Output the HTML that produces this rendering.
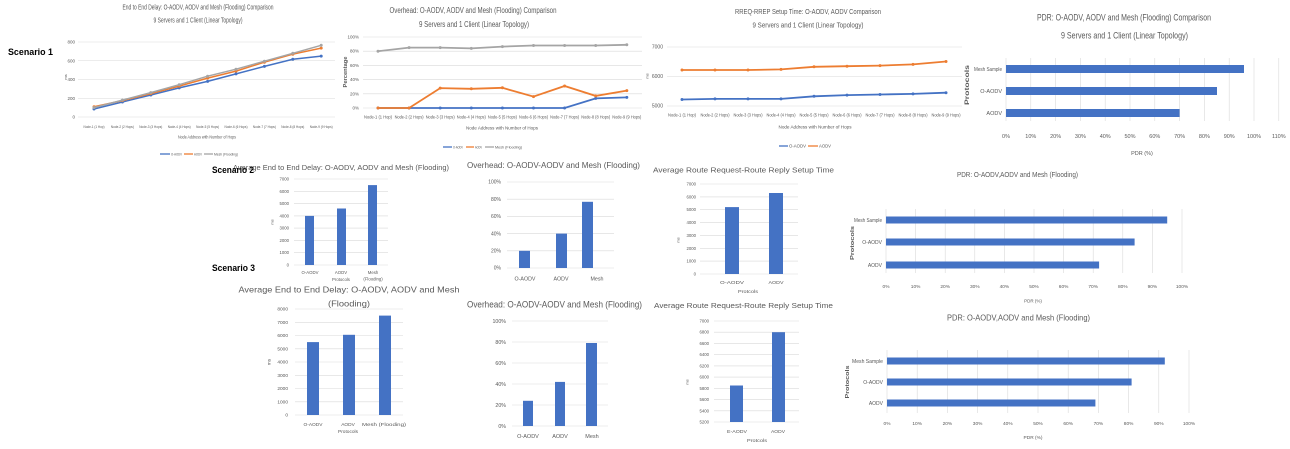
<!DOCTYPE html>
<html><head><meta charset="utf-8"><style>
html,body{margin:0;padding:0;background:#fff;width:1290px;height:449px;overflow:hidden}
svg{display:block}
</style></head><body>
<svg width="1290" height="449" viewBox="0 0 1290 449" font-family="Liberation Sans, sans-serif" fill="#595959">
<defs>
<marker id="mb" markerUnits="userSpaceOnUse" markerWidth="6" markerHeight="6" refX="3" refY="3"><circle cx="3" cy="3" r="1.5" fill="#4472C4"/></marker>
<marker id="mo" markerUnits="userSpaceOnUse" markerWidth="6" markerHeight="6" refX="3" refY="3"><circle cx="3" cy="3" r="1.5" fill="#ED7D31"/></marker>
<marker id="mg" markerUnits="userSpaceOnUse" markerWidth="6" markerHeight="6" refX="3" refY="3"><circle cx="3" cy="3" r="1.5" fill="#A5A5A5"/></marker>
</defs>

<!-- ============ Scenario labels ============ -->
<g fill="#000" font-weight="bold" font-size="9">
<text x="8" y="55" textLength="45" lengthAdjust="spacingAndGlyphs">Scenario 1</text>
</g>

<!-- ============ Chart 1 ============ -->
<text x="198" y="9.5" font-size="7" text-anchor="middle" textLength="151" lengthAdjust="spacingAndGlyphs">End to End Delay: O-AODV, AODV and Mesh (Flooding) Comparison</text>
<text x="198" y="22.5" font-size="7" text-anchor="middle" textLength="89" lengthAdjust="spacingAndGlyphs">9 Servers and 1 Client (Linear Topology)</text>
<g stroke="#D9D9D9" stroke-width="0.6">
<line x1="78" y1="42" x2="335" y2="42"/><line x1="78" y1="60.75" x2="335" y2="60.75"/><line x1="78" y1="79.5" x2="335" y2="79.5"/><line x1="78" y1="98.25" x2="335" y2="98.25"/><line x1="78" y1="117" x2="335" y2="117"/>
</g>
<g font-size="4.5" text-anchor="end">
<text x="75" y="43.5">800</text><text x="75" y="62.3">600</text><text x="75" y="81">400</text><text x="75" y="99.8">200</text><text x="75" y="118.5">0</text>
</g>
<text transform="rotate(-90 66 77)" x="66" y="78" font-size="4" text-anchor="middle">ms</text>
<g font-size="4" text-anchor="middle" lengthAdjust="spacingAndGlyphs">
<text x="94" y="128" textLength="21" lengthAdjust="spacingAndGlyphs">Node-1 (1 Hop)</text>
<text x="122.4" y="128" textLength="23" lengthAdjust="spacingAndGlyphs">Node-2 (2 Hops)</text>
<text x="150.8" y="128" textLength="23" lengthAdjust="spacingAndGlyphs">Node-3 (3 Hops)</text>
<text x="179.2" y="128" textLength="23" lengthAdjust="spacingAndGlyphs">Node-4 (4 Hops)</text>
<text x="207.6" y="128" textLength="23" lengthAdjust="spacingAndGlyphs">Node-5 (5 Hops)</text>
<text x="236" y="128" textLength="23" lengthAdjust="spacingAndGlyphs">Node-6 (6 Hops)</text>
<text x="264.4" y="128" textLength="23" lengthAdjust="spacingAndGlyphs">Node-7 (7 Hops)</text>
<text x="292.8" y="128" textLength="23" lengthAdjust="spacingAndGlyphs">Node-8 (8 Hops)</text>
<text x="321.2" y="128" textLength="23" lengthAdjust="spacingAndGlyphs">Node-9 (9 Hops)</text>
</g>
<text x="207" y="138.5" font-size="4.5" text-anchor="middle" textLength="58" lengthAdjust="spacingAndGlyphs">Node Address with Number of Hops</text>
<g fill="none" stroke-width="1.5">
<polyline stroke="#4472C4" marker-start="url(#mb)" marker-mid="url(#mb)" marker-end="url(#mb)" points="94,109 122.4,102 150.8,95 179.2,87.9 207.6,81.4 236,73.9 264.4,66.4 292.8,59.3 321.2,56.1"/>
<polyline stroke="#ED7D31" marker-start="url(#mo)" marker-mid="url(#mo)" marker-end="url(#mo)" points="94,106.7 122.4,100.6 150.8,93.6 179.2,86.1 207.6,78.1 236,71.1 264.4,62.2 292.8,54.2 321.2,48.1"/>
<polyline stroke="#A5A5A5" marker-start="url(#mg)" marker-mid="url(#mg)" marker-end="url(#mg)" points="94,107.6 122.4,100.1 150.8,92.6 179.2,84.7 207.6,76.2 236,69.2 264.4,61.2 292.8,53.3 321.2,45.3"/>
</g>
<g stroke-width="1.3">
<line x1="160" y1="154" x2="170" y2="154" stroke="#4472C4"/><line x1="184" y1="154" x2="193" y2="154" stroke="#ED7D31"/><line x1="204" y1="154" x2="213" y2="154" stroke="#A5A5A5"/>
</g>
<g font-size="4">
<text x="171" y="155.5" textLength="11" lengthAdjust="spacingAndGlyphs">O-AODV</text>
<text x="194" y="155.5" textLength="8" lengthAdjust="spacingAndGlyphs">AODV</text>
<text x="214" y="155.5" textLength="24" lengthAdjust="spacingAndGlyphs">Mesh (Flooding)</text>
</g>

<!-- ============ Chart 2 ============ -->
<text x="473" y="13" font-size="8" text-anchor="middle" textLength="167" lengthAdjust="spacingAndGlyphs">Overhead: O-AODV, AODV and Mesh (Flooding) Comparison</text>
<text x="474" y="27" font-size="8" text-anchor="middle" textLength="110" lengthAdjust="spacingAndGlyphs">9 Servers and 1 Client (Linear Topology)</text>
<g stroke="#D9D9D9" stroke-width="0.6">
<line x1="363" y1="37" x2="642" y2="37"/><line x1="363" y1="51.2" x2="642" y2="51.2"/><line x1="363" y1="65.4" x2="642" y2="65.4"/><line x1="363" y1="79.6" x2="642" y2="79.6"/><line x1="363" y1="93.8" x2="642" y2="93.8"/><line x1="363" y1="108" x2="642" y2="108"/>
</g>
<g font-size="4.5" text-anchor="end">
<text x="359" y="38.5">100%</text><text x="359" y="52.7">80%</text><text x="359" y="66.9">60%</text><text x="359" y="81.1">40%</text><text x="359" y="95.3">20%</text><text x="359" y="109.5">0%</text>
</g>
<text transform="rotate(-90 345 72)" x="345" y="74" font-size="5" font-weight="bold" text-anchor="middle" textLength="31" lengthAdjust="spacingAndGlyphs">Percentage</text>
<g font-size="4.3" text-anchor="middle">
<text x="378" y="118.5" textLength="28" lengthAdjust="spacingAndGlyphs">Node-1 (1 Hop)</text>
<text x="409.1" y="118.5" textLength="29" lengthAdjust="spacingAndGlyphs">Node-2 (2 Hops)</text>
<text x="440.2" y="118.5" textLength="29" lengthAdjust="spacingAndGlyphs">Node-3 (3 Hops)</text>
<text x="471.3" y="118.5" textLength="29" lengthAdjust="spacingAndGlyphs">Node-4 (4 Hops)</text>
<text x="502.4" y="118.5" textLength="29" lengthAdjust="spacingAndGlyphs">Node-5 (5 Hops)</text>
<text x="533.5" y="118.5" textLength="29" lengthAdjust="spacingAndGlyphs">Node-6 (6 Hops)</text>
<text x="564.6" y="118.5" textLength="29" lengthAdjust="spacingAndGlyphs">Node-7 (7 Hops)</text>
<text x="595.7" y="118.5" textLength="29" lengthAdjust="spacingAndGlyphs">Node-8 (8 Hops)</text>
<text x="626.8" y="118.5" textLength="29" lengthAdjust="spacingAndGlyphs">Node-9 (9 Hops)</text>
</g>
<text x="502" y="129.5" font-size="4.8" text-anchor="middle" textLength="72" lengthAdjust="spacingAndGlyphs">Node Address with Number of Hops</text>
<g fill="none" stroke-width="1.8">
<polyline stroke="#4472C4" marker-start="url(#mb)" marker-mid="url(#mb)" marker-end="url(#mb)" points="378,108 409.1,108 440.2,108 471.3,108 502.4,108 533.5,108 564.6,108 595.7,98.4 626.8,97.35"/>
<polyline stroke="#ED7D31" marker-start="url(#mo)" marker-mid="url(#mo)" marker-end="url(#mo)" points="378,108 409.1,108 440.2,88.1 471.3,88.8 502.4,87.8 533.5,96.6 564.6,86 595.7,95.9 626.8,90.6"/>
<polyline stroke="#A5A5A5" marker-start="url(#mg)" marker-mid="url(#mg)" marker-end="url(#mg)" points="378,51.2 409.1,47.65 440.2,47.65 471.3,48.4 502.4,46.6 533.5,45.5 564.6,45.5 595.7,45.5 626.8,44.8"/>
</g>
<g stroke-width="1.3">
<line x1="443" y1="147" x2="452" y2="147" stroke="#4472C4"/><line x1="466" y1="147" x2="474" y2="147" stroke="#ED7D31"/><line x1="485" y1="147" x2="494" y2="147" stroke="#A5A5A5"/>
</g>
<g font-size="4">
<text x="453" y="148.5" textLength="10" lengthAdjust="spacingAndGlyphs">O-AODV</text>
<text x="475" y="148.5" textLength="7" lengthAdjust="spacingAndGlyphs">AODV</text>
<text x="495" y="148.5" textLength="27" lengthAdjust="spacingAndGlyphs">Mesh (Flooding)</text>
</g>

<!-- ============ Chart 3 ============ -->
<text x="808" y="14" font-size="7.5" text-anchor="middle" textLength="146" lengthAdjust="spacingAndGlyphs">RREQ-RREP Setup Time: O-AODV, AODV Comparison</text>
<text x="808" y="27.5" font-size="7.5" text-anchor="middle" textLength="111" lengthAdjust="spacingAndGlyphs">9 Servers and 1 Client (Linear Topology)</text>
<g stroke="#D9D9D9" stroke-width="0.6">
<line x1="667" y1="47" x2="962" y2="47"/><line x1="667" y1="76.5" x2="962" y2="76.5"/><line x1="667" y1="106" x2="962" y2="106"/>
</g>
<g font-size="5" text-anchor="end">
<text x="663" y="48.7">7000</text><text x="663" y="78.2">6000</text><text x="663" y="107.7">5000</text>
</g>
<text transform="rotate(-90 647 76)" x="647" y="77.5" font-size="4" text-anchor="middle">ms</text>
<g font-size="4.3" text-anchor="middle">
<text x="682" y="116.5" textLength="28" lengthAdjust="spacingAndGlyphs">Node-1 (1 Hop)</text>
<text x="715" y="116.5" textLength="29" lengthAdjust="spacingAndGlyphs">Node-2 (2 Hops)</text>
<text x="748" y="116.5" textLength="29" lengthAdjust="spacingAndGlyphs">Node-3 (3 Hops)</text>
<text x="781" y="116.5" textLength="29" lengthAdjust="spacingAndGlyphs">Node-4 (4 Hops)</text>
<text x="814" y="116.5" textLength="29" lengthAdjust="spacingAndGlyphs">Node-5 (5 Hops)</text>
<text x="847" y="116.5" textLength="29" lengthAdjust="spacingAndGlyphs">Node-6 (6 Hops)</text>
<text x="880" y="116.5" textLength="29" lengthAdjust="spacingAndGlyphs">Node-7 (7 Hops)</text>
<text x="913" y="116.5" textLength="29" lengthAdjust="spacingAndGlyphs">Node-8 (8 Hops)</text>
<text x="946" y="116.5" textLength="29" lengthAdjust="spacingAndGlyphs">Node-9 (9 Hops)</text>
</g>
<text x="815" y="128.5" font-size="4.8" text-anchor="middle" textLength="73" lengthAdjust="spacingAndGlyphs">Node Address with Number of Hops</text>
<g fill="none" stroke-width="1.8">
<polyline stroke="#ED7D31" marker-start="url(#mo)" marker-mid="url(#mo)" marker-end="url(#mo)" points="682,70 715,70 748,70 781,69.4 814,66.8 847,66.2 880,65.6 913,64.4 946,61.5"/>
<polyline stroke="#4472C4" marker-start="url(#mb)" marker-mid="url(#mb)" marker-end="url(#mb)" points="682,99.5 715,98.9 748,98.9 781,98.9 814,96.3 847,95.1 880,94.5 913,93.9 946,92.7"/>
</g>
<g stroke-width="1.3">
<line x1="779" y1="146" x2="788" y2="146" stroke="#4472C4"/><line x1="808" y1="146" x2="818" y2="146" stroke="#ED7D31"/>
</g>
<g font-size="4.3">
<text x="789" y="147.5" textLength="17" lengthAdjust="spacingAndGlyphs">O-AODV</text>
<text x="819" y="147.5" textLength="12" lengthAdjust="spacingAndGlyphs">AODV</text>
</g>

<!-- ============ Chart 4 ============ -->
<text x="1124" y="20.5" font-size="9.5" text-anchor="middle" textLength="174" lengthAdjust="spacingAndGlyphs">PDR: O-AODV, AODV and Mesh (Flooding) Comparison</text>
<text x="1124.5" y="38.5" font-size="9.5" text-anchor="middle" textLength="127" lengthAdjust="spacingAndGlyphs">9 Servers and 1 Client (Linear Topology)</text>
<g stroke="#D9D9D9" stroke-width="0.6">
<line x1="1006" y1="58" x2="1006" y2="121"/><line x1="1030.8" y1="58" x2="1030.8" y2="121"/><line x1="1055.6" y1="58" x2="1055.6" y2="121"/><line x1="1080.4" y1="58" x2="1080.4" y2="121"/><line x1="1105.2" y1="58" x2="1105.2" y2="121"/><line x1="1130" y1="58" x2="1130" y2="121"/><line x1="1154.8" y1="58" x2="1154.8" y2="121"/><line x1="1179.6" y1="58" x2="1179.6" y2="121"/><line x1="1204.4" y1="58" x2="1204.4" y2="121"/><line x1="1229.2" y1="58" x2="1229.2" y2="121"/><line x1="1254" y1="58" x2="1254" y2="121"/><line x1="1278.8" y1="58" x2="1278.8" y2="121"/>
</g>
<g fill="#4472C4">
<rect x="1006" y="65" width="238" height="8"/><rect x="1006" y="87" width="211" height="8"/><rect x="1006" y="109" width="173.6" height="8"/>
</g>
<g font-size="5.5" text-anchor="end">
<text x="1002" y="71" textLength="28" lengthAdjust="spacingAndGlyphs">Mesh Sample</text>
<text x="1002" y="93">O-AODV</text>
<text x="1002" y="115">AODV</text>
</g>
<g font-size="5.5" text-anchor="middle">
<text x="1006" y="138">0%</text><text x="1030.8" y="138">10%</text><text x="1055.6" y="138">20%</text><text x="1080.4" y="138">30%</text><text x="1105.2" y="138">40%</text><text x="1130" y="138">50%</text><text x="1154.8" y="138">60%</text><text x="1179.6" y="138">70%</text><text x="1204.4" y="138">80%</text><text x="1229.2" y="138">90%</text><text x="1254" y="138">100%</text><text x="1278.8" y="138">110%</text>
</g>
<text x="1142" y="155" font-size="5.5" text-anchor="middle">PDR (%)</text>
<text transform="rotate(-90 967 85)" x="967" y="87" font-size="6" font-weight="bold" text-anchor="middle" textLength="40" lengthAdjust="spacingAndGlyphs">Protocols</text>

<!-- ============ Chart 5 (Scenario 2) ============ -->
<text x="341" y="170" font-size="7.5" text-anchor="middle" textLength="216" lengthAdjust="spacingAndGlyphs">Average End to End Delay: O-AODV, AODV and Mesh (Flooding)</text>
<text x="212" y="173" fill="#000" font-weight="bold" font-size="9" textLength="42" lengthAdjust="spacingAndGlyphs">Scenario 2</text>
<g stroke="#D9D9D9" stroke-width="0.6">
<line x1="294" y1="179" x2="388" y2="179"/><line x1="294" y1="191.3" x2="388" y2="191.3"/><line x1="294" y1="203.6" x2="388" y2="203.6"/><line x1="294" y1="215.9" x2="388" y2="215.9"/><line x1="294" y1="228.1" x2="388" y2="228.1"/><line x1="294" y1="240.4" x2="388" y2="240.4"/><line x1="294" y1="252.7" x2="388" y2="252.7"/><line x1="294" y1="265" x2="388" y2="265"/>
</g>
<g font-size="4.3" text-anchor="end">
<text x="289" y="180.5">7000</text><text x="289" y="192.8">6000</text><text x="289" y="205.1">5000</text><text x="289" y="217.4">4000</text><text x="289" y="229.6">3000</text><text x="289" y="241.9">2000</text><text x="289" y="254.2">1000</text><text x="289" y="266.5">0</text>
</g>
<text transform="rotate(-90 272 222)" x="272" y="223.5" font-size="4" text-anchor="middle">ms</text>
<g fill="#4472C4">
<rect x="305" y="215.9" width="9" height="49.1"/><rect x="337" y="208.5" width="9" height="56.5"/><rect x="368" y="185.1" width="9" height="79.9"/>
</g>
<g font-size="4.3" text-anchor="middle">
<text x="310" y="274">O-AODV</text><text x="341" y="274">AODV</text><text x="373" y="274">Mesh</text>
<text x="373" y="280.5">(Flooding)</text><text x="341" y="281">Protocols</text>
</g>
<text x="212" y="271" fill="#000" font-weight="bold" font-size="9" textLength="43" lengthAdjust="spacingAndGlyphs">Scenario 3</text>

<!-- ============ Chart 6 ============ -->
<text x="553.5" y="168" font-size="8.5" text-anchor="middle" textLength="173" lengthAdjust="spacingAndGlyphs">Overhead: O-AODV-AODV and Mesh (Flooding)</text>
<g stroke="#D9D9D9" stroke-width="0.6">
<line x1="507" y1="182" x2="614" y2="182"/><line x1="507" y1="199.2" x2="614" y2="199.2"/><line x1="507" y1="216.4" x2="614" y2="216.4"/><line x1="507" y1="233.6" x2="614" y2="233.6"/><line x1="507" y1="250.8" x2="614" y2="250.8"/><line x1="507" y1="268" x2="614" y2="268"/>
</g>
<g font-size="5" text-anchor="end">
<text x="501" y="183.7">100%</text><text x="501" y="200.9">80%</text><text x="501" y="218.1">60%</text><text x="501" y="235.3">40%</text><text x="501" y="252.5">20%</text><text x="501" y="269.7">0%</text>
</g>
<g fill="#4472C4">
<rect x="519" y="250.8" width="11" height="17.2"/><rect x="556" y="233.6" width="11" height="34.4"/><rect x="582" y="201.8" width="11" height="66.2"/>
</g>
<g font-size="5.3" text-anchor="middle">
<text x="525" y="280.5">O-AODV</text><text x="561" y="280.5">AODV</text><text x="597" y="280.5">Mesh</text>
</g>

<!-- ============ Chart 7 ============ -->
<text x="743.5" y="172.5" font-size="7.5" text-anchor="middle" textLength="181" lengthAdjust="spacingAndGlyphs">Average Route Request-Route Reply Setup Time</text>
<g stroke="#D9D9D9" stroke-width="0.6">
<line x1="700" y1="184" x2="798" y2="184"/><line x1="700" y1="196.9" x2="798" y2="196.9"/><line x1="700" y1="209.7" x2="798" y2="209.7"/><line x1="700" y1="222.6" x2="798" y2="222.6"/><line x1="700" y1="235.4" x2="798" y2="235.4"/><line x1="700" y1="248.3" x2="798" y2="248.3"/><line x1="700" y1="261.1" x2="798" y2="261.1"/><line x1="700" y1="274" x2="798" y2="274"/>
</g>
<g font-size="4.3" text-anchor="end">
<text x="696" y="185.5">7000</text><text x="696" y="198.4">6000</text><text x="696" y="211.2">5000</text><text x="696" y="224.1">4000</text><text x="696" y="236.9">3000</text><text x="696" y="249.8">2000</text><text x="696" y="262.6">1000</text><text x="696" y="275.5">0</text>
</g>
<text transform="rotate(-90 678 240)" x="678" y="241.5" font-size="4" text-anchor="middle">ms</text>
<g fill="#4472C4">
<rect x="725" y="207.1" width="14" height="66.9"/><rect x="769" y="193" width="14" height="81"/>
</g>
<g font-size="4.5" text-anchor="middle">
<text x="732" y="284" textLength="24" lengthAdjust="spacingAndGlyphs">O-AODV</text><text x="776" y="284" textLength="15" lengthAdjust="spacingAndGlyphs">AODV</text>
<text x="748" y="293" textLength="20" lengthAdjust="spacingAndGlyphs">Protcols</text>
</g>

<!-- ============ Chart 8 ============ -->
<text x="1017.5" y="177" font-size="7" text-anchor="middle" textLength="121" lengthAdjust="spacingAndGlyphs">PDR: O-AODV,AODV and Mesh (Flooding)</text>
<g stroke="#D9D9D9" stroke-width="0.6">
<line x1="886" y1="209" x2="886" y2="273"/><line x1="915.6" y1="209" x2="915.6" y2="273"/><line x1="945.2" y1="209" x2="945.2" y2="273"/><line x1="974.8" y1="209" x2="974.8" y2="273"/><line x1="1004.4" y1="209" x2="1004.4" y2="273"/><line x1="1034" y1="209" x2="1034" y2="273"/><line x1="1063.6" y1="209" x2="1063.6" y2="273"/><line x1="1093.2" y1="209" x2="1093.2" y2="273"/><line x1="1122.8" y1="209" x2="1122.8" y2="273"/><line x1="1152.4" y1="209" x2="1152.4" y2="273"/><line x1="1182" y1="209" x2="1182" y2="273"/>
</g>
<g fill="#4472C4">
<rect x="886" y="216.5" width="281.2" height="7"/><rect x="886" y="238.5" width="248.6" height="7"/><rect x="886" y="261.5" width="213.1" height="7"/>
</g>
<g font-size="5" text-anchor="end">
<text x="882" y="221.8" textLength="28" lengthAdjust="spacingAndGlyphs">Mesh Sample</text>
<text x="882" y="243.8">O-AODV</text>
<text x="882" y="266.8">AODV</text>
</g>
<g font-size="4.8" text-anchor="middle">
<text x="886" y="288">0%</text><text x="915.6" y="288">10%</text><text x="945.2" y="288">20%</text><text x="974.8" y="288">30%</text><text x="1004.4" y="288">40%</text><text x="1034" y="288">50%</text><text x="1063.6" y="288">60%</text><text x="1093.2" y="288">70%</text><text x="1122.8" y="288">80%</text><text x="1152.4" y="288">90%</text><text x="1182" y="288">100%</text>
</g>
<text x="1033" y="302.5" font-size="4.5" text-anchor="middle">PDR (%)</text>
<text transform="rotate(-90 852 243)" x="852" y="245" font-size="5.5" font-weight="bold" text-anchor="middle" textLength="34" lengthAdjust="spacingAndGlyphs">Protocols</text>

<!-- ============ Chart 9 (Scenario 3) ============ -->
<text x="349" y="292.5" font-size="8.5" text-anchor="middle" textLength="221" lengthAdjust="spacingAndGlyphs">Average End to End Delay: O-AODV, AODV and Mesh</text>
<text x="349" y="306.5" font-size="8.5" text-anchor="middle" textLength="42" lengthAdjust="spacingAndGlyphs">(Flooding)</text>
<g stroke="#D9D9D9" stroke-width="0.6">
<line x1="295" y1="309" x2="403" y2="309"/><line x1="295" y1="322.3" x2="403" y2="322.3"/><line x1="295" y1="335.5" x2="403" y2="335.5"/><line x1="295" y1="348.8" x2="403" y2="348.8"/><line x1="295" y1="362" x2="403" y2="362"/><line x1="295" y1="375.3" x2="403" y2="375.3"/><line x1="295" y1="388.5" x2="403" y2="388.5"/><line x1="295" y1="401.8" x2="403" y2="401.8"/><line x1="295" y1="415" x2="403" y2="415"/>
</g>
<g font-size="4.8" text-anchor="end">
<text x="288" y="310.7">8000</text><text x="288" y="324">7000</text><text x="288" y="337.2">6000</text><text x="288" y="350.5">5000</text><text x="288" y="363.7">4000</text><text x="288" y="377">3000</text><text x="288" y="390.2">2000</text><text x="288" y="403.5">1000</text><text x="288" y="416.7">0</text>
</g>
<text transform="rotate(-90 269 362)" x="269" y="363.7" font-size="4.8" text-anchor="middle">ms</text>
<g fill="#4472C4">
<rect x="307" y="342.1" width="12" height="72.9"/><rect x="343" y="334.8" width="12" height="80.2"/><rect x="379" y="315.6" width="12" height="99.4"/>
</g>
<g font-size="4.8" text-anchor="middle">
<text x="313" y="426">O-AODV</text><text x="348" y="426">AODV</text><text x="384" y="426" textLength="44" lengthAdjust="spacingAndGlyphs">Mesh (Flooding)</text>
<text x="348" y="433">Protocols</text>
</g>

<!-- ============ Chart 10 ============ -->
<text x="554.5" y="307.5" font-size="8.8" text-anchor="middle" textLength="175" lengthAdjust="spacingAndGlyphs">Overhead: O-AODV-AODV and Mesh (Flooding)</text>
<g stroke="#D9D9D9" stroke-width="0.6">
<line x1="512" y1="321" x2="608" y2="321"/><line x1="512" y1="342" x2="608" y2="342"/><line x1="512" y1="363" x2="608" y2="363"/><line x1="512" y1="384" x2="608" y2="384"/><line x1="512" y1="405" x2="608" y2="405"/><line x1="512" y1="426" x2="608" y2="426"/>
</g>
<g font-size="5.3" text-anchor="end">
<text x="506" y="322.8">100%</text><text x="506" y="343.8">80%</text><text x="506" y="364.8">60%</text><text x="506" y="385.8">40%</text><text x="506" y="406.8">20%</text><text x="506" y="427.8">0%</text>
</g>
<g fill="#4472C4">
<rect x="523" y="400.8" width="10" height="25.2"/><rect x="555" y="381.9" width="10" height="44.1"/><rect x="586" y="343" width="11" height="83"/>
</g>
<g font-size="5.5" text-anchor="middle">
<text x="528" y="438">O-AODV</text><text x="560" y="438">AODV</text><text x="592" y="438">Mesh</text>
</g>

<!-- ============ Chart 11 ============ -->
<text x="743.5" y="307.8" font-size="7.5" text-anchor="middle" textLength="179" lengthAdjust="spacingAndGlyphs">Average Route Request-Route Reply Setup Time</text>
<g stroke="#D9D9D9" stroke-width="0.6">
<line x1="714" y1="321" x2="799" y2="321"/><line x1="714" y1="332.2" x2="799" y2="332.2"/><line x1="714" y1="343.4" x2="799" y2="343.4"/><line x1="714" y1="354.7" x2="799" y2="354.7"/><line x1="714" y1="365.9" x2="799" y2="365.9"/><line x1="714" y1="377.1" x2="799" y2="377.1"/><line x1="714" y1="388.3" x2="799" y2="388.3"/><line x1="714" y1="399.6" x2="799" y2="399.6"/><line x1="714" y1="410.8" x2="799" y2="410.8"/><line x1="714" y1="422" x2="799" y2="422"/>
</g>
<g font-size="4.3" text-anchor="end">
<text x="709" y="322.5">7000</text><text x="709" y="333.7">6800</text><text x="709" y="344.9">6600</text><text x="709" y="356.2">6400</text><text x="709" y="367.4">6200</text><text x="709" y="378.6">6000</text><text x="709" y="389.8">5800</text><text x="709" y="401.1">5600</text><text x="709" y="412.3">5400</text><text x="709" y="423.5">5200</text>
</g>
<text transform="rotate(-90 687 382)" x="687" y="383.5" font-size="4" text-anchor="middle">ms</text>
<g fill="#4472C4">
<rect x="730" y="385.5" width="13" height="36.5"/><rect x="772" y="332.2" width="13" height="89.8"/>
</g>
<g font-size="4.5" text-anchor="middle">
<text x="737" y="433" textLength="20" lengthAdjust="spacingAndGlyphs">E-AODV</text><text x="778" y="433" textLength="14" lengthAdjust="spacingAndGlyphs">AODV</text>
<text x="757" y="442" textLength="20" lengthAdjust="spacingAndGlyphs">Protcols</text>
</g>

<!-- ============ Chart 12 ============ -->
<text x="1018.5" y="320.5" font-size="8.5" text-anchor="middle" textLength="143" lengthAdjust="spacingAndGlyphs">PDR: O-AODV,AODV and Mesh (Flooding)</text>
<g stroke="#D9D9D9" stroke-width="0.6">
<line x1="887" y1="350" x2="887" y2="413"/><line x1="917.2" y1="350" x2="917.2" y2="413"/><line x1="947.4" y1="350" x2="947.4" y2="413"/><line x1="977.6" y1="350" x2="977.6" y2="413"/><line x1="1007.8" y1="350" x2="1007.8" y2="413"/><line x1="1038" y1="350" x2="1038" y2="413"/><line x1="1068.2" y1="350" x2="1068.2" y2="413"/><line x1="1098.4" y1="350" x2="1098.4" y2="413"/><line x1="1128.6" y1="350" x2="1128.6" y2="413"/><line x1="1158.8" y1="350" x2="1158.8" y2="413"/><line x1="1189" y1="350" x2="1189" y2="413"/>
</g>
<g fill="#4472C4">
<rect x="887" y="357.5" width="277.8" height="7"/><rect x="887" y="378.5" width="244.6" height="7"/><rect x="887" y="399.5" width="208.4" height="7"/>
</g>
<g font-size="5" text-anchor="end">
<text x="883" y="362.8" textLength="31" lengthAdjust="spacingAndGlyphs">Mesh Sample</text>
<text x="883" y="383.8">O-AODV</text>
<text x="883" y="404.8">AODV</text>
</g>
<g font-size="4.8" text-anchor="middle">
<text x="887" y="425">0%</text><text x="917.2" y="425">10%</text><text x="947.4" y="425">20%</text><text x="977.6" y="425">30%</text><text x="1007.8" y="425">40%</text><text x="1038" y="425">50%</text><text x="1068.2" y="425">60%</text><text x="1098.4" y="425">70%</text><text x="1128.6" y="425">80%</text><text x="1158.8" y="425">90%</text><text x="1189" y="425">100%</text>
</g>
<text x="1033" y="439" font-size="4.8" text-anchor="middle">PDR (%)</text>
<text transform="rotate(-90 847 382)" x="847" y="384" font-size="5.5" font-weight="bold" text-anchor="middle" textLength="33" lengthAdjust="spacingAndGlyphs">Protocols</text>
</svg>
</body></html>
